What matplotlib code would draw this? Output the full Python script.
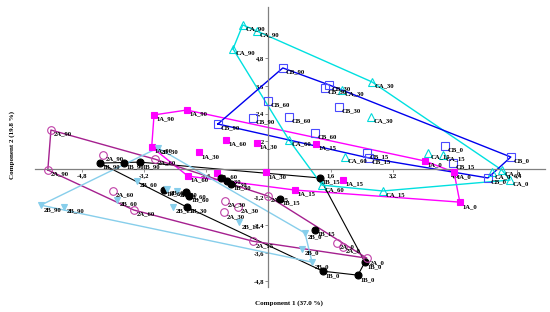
import numpy as np
import matplotlib
matplotlib.use("Agg")
import matplotlib.pyplot as plt
from matplotlib.ticker import FuncFormatter

plt.rcParams['font.family'] = ['Liberation Serif', 'DejaVu Serif']
plt.rcParams['font.weight'] = 'bold'

# scores (component 1, component 2) and sampling time
a1_x = [-2.94, -2.10, -3.00, -1.09, -2.07, -1.32, -1.79, -0.30, -0.06, 0.68, 1.92, 1.22, 4.02, 4.77, 4.92]
a1_y = [2.34, 2.55, 0.96, 1.26, -0.29, -0.16, 0.74, 1.13, -0.12, -0.89, -0.46, 1.09, 0.36, -0.12, -1.41]
a1_t = [90, 90, 90, 60, 60, 60, 30, 30, 30, 15, 15, 15, 0, 0, 0]

b1_x = [-4.33, -3.72, -3.30, -2.69, -2.12, -2.04, -1.22, -1.07, -0.96, -2.10, 1.32, 0.30, 1.20, 2.48, 2.30, 1.40]
b1_y = [0.27, 0.27, 0.31, -0.89, -0.98, -1.15, -0.37, -0.50, -0.63, -1.62, -0.37, -1.28, -2.61, -3.99, -4.55, -4.38]
b1_t = [90, 90, 90, 60, 60, 60, 30, 30, 30, 30, 15, 15, 15, 0, 0, 0]

a2_x = [-5.59, -5.67, -4.25, -2.92, -4.00, -3.46, -1.12, -0.78, -1.14, -0.01, -0.40, 1.76, 1.92, 2.53]
a2_y = [1.69, -0.03, 0.62, 0.44, -0.93, -1.75, -1.36, -1.62, -1.84, -1.15, -3.09, -3.17, -3.34, -3.82]
a2_t = [90, 90, 90, 60, 60, 60, 30, 30, 30, 15, 15, 0, 0, 0]

b2_x = [-5.85, -5.26, -2.84, -3.38, -3.90, -2.61, -2.35, -2.46, -0.76, 0.94, 0.86, 1.12]
b2_y = [-1.54, -1.62, 0.92, -0.50, -1.32, -0.85, -0.93, -1.62, -2.27, -2.74, -3.43, -3.99]
b2_t = [90, 90, 30, 60, 60, 60, 30, 15, 15, 0, 0, 0]

ca_x = [-0.66, -0.30, -0.91, 2.66, 1.89, 2.64, 0.53, 1.97, 1.38, 2.94, 4.10, 4.49, 5.75, 6.00, 6.21]
ca_y = [6.21, 5.95, 5.18, 3.76, 3.41, 2.25, 1.26, 0.53, -0.68, -0.93, 0.70, 0.62, -0.12, -0.03, -0.46]
ca_t = [90, 90, 90, 30, 30, 30, 60, 60, 60, 15, 15, 15, 0, 0, 0]

cb_x = [0.37, -0.40, -1.30, -0.01, 0.53, 1.20, 1.56, 1.45, 1.81, 2.53, 2.58, 4.74, 4.54, 6.23, 5.64]
cb_y = [4.36, 2.21, 1.95, 2.94, 2.25, 1.56, 3.63, 3.50, 2.68, 0.70, 0.49, 0.27, 1.00, 0.53, -0.37]
cb_t = [90, 90, 90, 60, 60, 60, 30, 30, 30, 15, 15, 15, 0, 0, 0]

x_ticks = [-4.8, -3.2, -1.6, 1.6, 3.2, 4.8, 6.4]
y_ticks = [-4.8, -3.6, -2.4, -1.2, 1.2, 2.4, 3.6, 4.8]


# convex hull (monotone chain)
def hull(x, y):
    pts = sorted(set(zip(x, y)))

    def cross(o, a, b):
        return (a[0] - o[0]) * (b[1] - o[1]) - (a[1] - o[1]) * (b[0] - o[0])

    lower, upper = [], []
    for p in pts:
        while len(lower) >= 2 and cross(lower[-2], lower[-1], p) <= 0:
            lower.pop()
        lower.append(p)
    for p in reversed(pts):
        while len(upper) >= 2 and cross(upper[-2], upper[-1], p) <= 0:
            upper.pop()
        upper.append(p)
    h = lower[:-1] + upper[:-1]
    h.append(h[0])
    return np.array(h)


groups = [
    ("1A", a1_x, a1_y, a1_t, '#ff00ff', dict(marker='s', mfc='#ff00ff', mec='#ff00ff', ms=4.6)),
    ("1B", b1_x, b1_y, b1_t, '#000000', dict(marker='o', mfc='black', mec='black', ms=5)),
    ("2A", a2_x, a2_y, a2_t, '#a5208f', dict(marker='o', mfc='none', mec='#c040a8', ms=5.5)),
    ("2B", b2_x, b2_y, b2_t, '#87ceeb', dict(marker='v', mfc='#87ceeb', mec='#87ceeb', ms=5)),
    ("CA", ca_x, ca_y, ca_t, '#00e0e0', dict(marker='^', mfc='none', mec='#00dada', ms=5.5)),
    ("CB", cb_x, cb_y, cb_t, '#0000ee', dict(marker='s', mfc='none', mec='#4a4aff', ms=5.5)),
]

fig = plt.figure(figsize=(5.5, 3.12), dpi=100)
ax = fig.add_axes([0.0636, 0.0801, 0.9267, 0.8974])

for name, x, y, t, lc, mk in groups:
    h = hull(x, y)
    lw = 0.8 if name == "1B" else 1.0
    ax.plot(h[:, 0], h[:, 1], color=lc, lw=lw, zorder=2)
    ax.plot(x, y, ls='none', mew=0.8, zorder=3, **mk)
    for xi, yi, ti in zip(x, y, t):
        ax.annotate(f"{name}_{ti}", (xi, yi), xytext=(2, -3), textcoords='offset points',
                    ha='left', va='center', fontsize=4.8, fontweight='bold', zorder=4)

ax.set_xlim(-6.0, 7.1)
ax.set_ylim(-5.06, 6.98)
for s in ['top', 'right']:
    ax.spines[s].set_visible(False)
for s in ['left', 'bottom']:
    ax.spines[s].set_position('zero')
    ax.spines[s].set_color('#808080')
    ax.spines[s].set_linewidth(0.9)
ax.set_xticks(x_ticks)
ax.set_yticks(y_ticks)
fmt = FuncFormatter(lambda v, p: f"{v:.1f}".replace('.', ','))
ax.xaxis.set_major_formatter(fmt)
ax.yaxis.set_major_formatter(fmt)
ax.tick_params(length=2, width=0.6, color='#808080', labelsize=4.8, pad=1)
ax.patch.set_visible(False)

fig.text(289 / 550, 1 - 303 / 312, "Component 1 (37.0 %)", ha='center', va='center',
         fontsize=5, fontweight='bold')
fig.text(12 / 550, 1 - 145 / 312, "Component 2 (19.8 %)", ha='center', va='center',
         rotation=90, fontsize=5, fontweight='bold')

fig.savefig("out.png", dpi=100)
